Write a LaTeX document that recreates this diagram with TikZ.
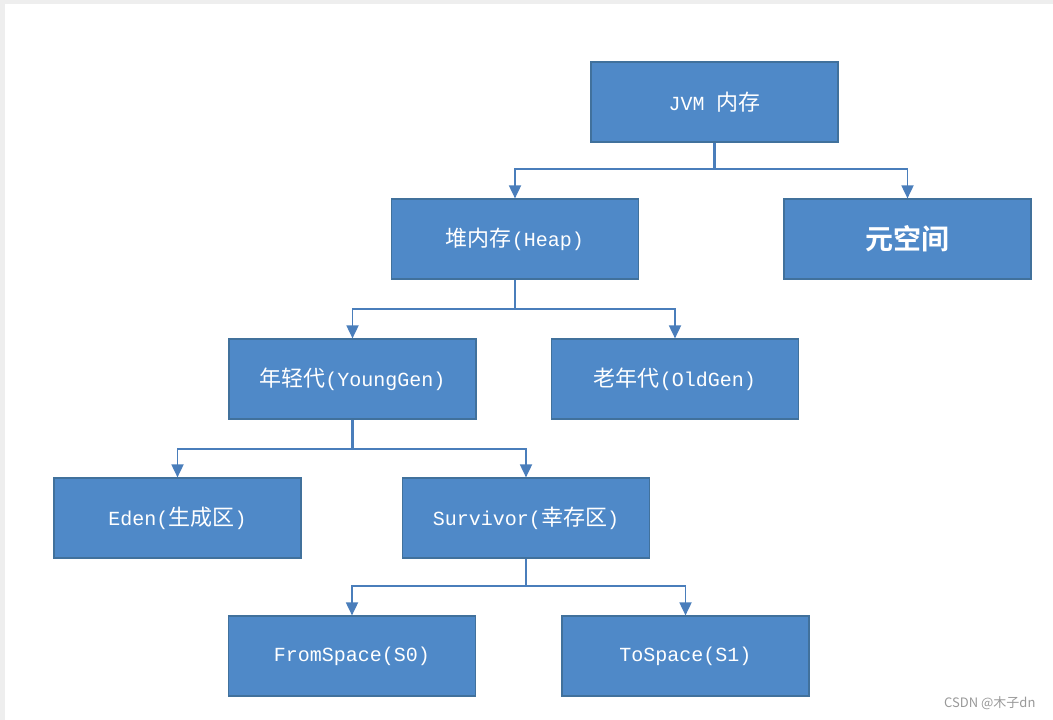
\documentclass[tikz,border=0pt]{standalone}
\usepackage{fontspec}
\setmainfont{Liberation Mono}
\newfontfamily\cjk{Noto Sans CJK SC}
\newfontfamily\cjkb{Noto Sans CJK SC}[BoldFont={* Bold}]
\usetikzlibrary{arrows.meta}
\definecolor{boxfill}{HTML}{4F89C8}
\definecolor{boxline}{HTML}{41719C}
\definecolor{conn}{HTML}{4A7EBB}
\definecolor{framegray}{HTML}{EEEEEE}
\tikzset{
  box/.style={draw=boxline, line width=1.2pt, fill=boxfill, minimum width=247pt, minimum height=80pt, inner sep=0pt, text=white, font=\fontsize{20}{22}\selectfont},
  stem/.style={draw=conn, line width=2.6pt},
  branch/.style={draw=conn, line width=1.8pt, -{Triangle[width=12pt,length=13pt]}},
}
\newcommand{\zh}[1]{{\cjk\fontsize{22}{22}\selectfont #1}}
\begin{document}
\begin{tikzpicture}[x=1pt,y=-1pt]
\useasboundingbox (0,0) rectangle (1053,720);
\fill[framegray] (0,0) rectangle (1053,720);
\fill[white] (5,4) rectangle (1053,720);

\node[box] (jvm)  at (714.5,102) {JVM \zh{内存}};
\node[box] (heap) at (515,239) {\zh{堆内存}(Heap)};
\node[box] (meta) at (907.5,239) {{\cjkb\bfseries\fontsize{28}{30}\selectfont 元空间}};
\node[box] (young) at (352.5,379) {\zh{年轻代}(YoungGen)};
\node[box] (old) at (675,379) {\zh{老年代}(OldGen)};
\node[box] (eden) at (177.5,518) {Eden(\zh{生成区})};
\node[box] (surv) at (526,518) {Survivor(\zh{幸存区})};
\node[box] (from) at (352,656) {FromSpace(S0)};
\node[box] (to) at (685.5,656) {ToSpace(S1)};

\coordinate (j1) at (714.5,169);
\coordinate (h1) at (515,309);
\coordinate (y1) at (352.5,449);
\coordinate (s1) at (526,586);

\draw[stem] (jvm.south) -- (j1);
\draw[branch] (j1) -| (heap.north);
\draw[branch] (j1) -| (meta.north);

\draw[stem] (heap.south) -- (h1);
\draw[branch] (h1) -| (young.north);
\draw[branch] (h1) -| (old.north);

\draw[stem] (young.south) -- (y1);
\draw[branch] (y1) -| (eden.north);
\draw[branch] (y1) -| (surv.north);

\draw[stem] (surv.south) -- (s1);
\draw[branch] (s1) -| (from.north);
\draw[branch] (s1) -| (to.north);

\node[text=gray!80, font=\cjk\fontsize{13}{15}\selectfont, anchor=east] (wm) at (1039,703) {CSDN @木子dn};
\end{tikzpicture}
\end{document}
